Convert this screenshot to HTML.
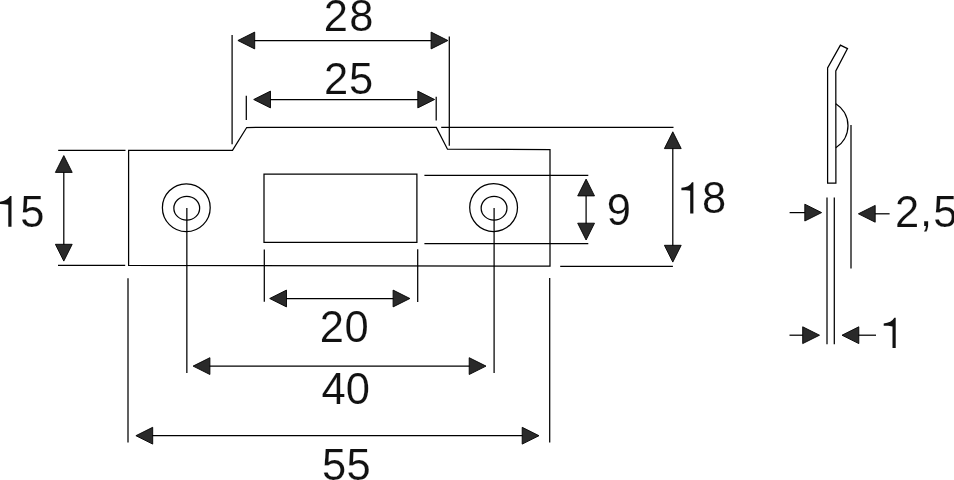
<!DOCTYPE html>
<html><head><meta charset="utf-8"><style>
html,body{margin:0;padding:0;background:#fff;width:954px;height:480px;overflow:hidden}
svg{display:block;filter:grayscale(1)}
text{font-family:"Liberation Sans",sans-serif;fill:#111;stroke:#fff;stroke-width:0.15px}
</style></head><body>
<svg width="954" height="480" viewBox="0 0 954 480">
<rect width="954" height="480" fill="#fff"/>
<polygon points="128.6,150.4 232.5,150.4 246.7,127.5 436.3,127.4 447.5,149.2 550,149.5 550,266.1 128.6,265.4" fill="none" stroke="#000" stroke-width="1.25" stroke-linejoin="miter"/>
<polygon points="264,174 416.9,174 416.9,242.4 264,242.4" fill="none" stroke="#000" stroke-width="1.25" stroke-linejoin="miter"/>
<circle cx="186.3" cy="207.7" r="23.9" fill="none" stroke="#000" stroke-width="1.25"/>
<ellipse cx="186.75" cy="208.2" rx="12.9" ry="11.9" fill="none" stroke="#000" stroke-width="1.25"/>
<circle cx="493.6" cy="207.6" r="23.9" fill="none" stroke="#000" stroke-width="1.25"/>
<ellipse cx="494.05" cy="208.2" rx="12.9" ry="11.9" fill="none" stroke="#000" stroke-width="1.25"/>
<line x1="232.1" y1="35" x2="232.1" y2="144.2" stroke="#000" stroke-width="1.25"/>
<line x1="449.3" y1="36.4" x2="449.3" y2="145.8" stroke="#000" stroke-width="1.25"/>
<line x1="253.3" y1="40.5" x2="432.5" y2="40.5" stroke="#000" stroke-width="1.25"/>
<polygon points="237.90,40.50 254.70,32.10 254.70,48.90" fill="#2a2a2a" stroke="#000" stroke-width="0.9" stroke-linejoin="round"/>
<polygon points="447.90,40.50 431.10,48.90 431.10,32.10" fill="#2a2a2a" stroke="#000" stroke-width="0.9" stroke-linejoin="round"/>
<line x1="246.3" y1="95.8" x2="246.3" y2="120" stroke="#000" stroke-width="1.25"/>
<line x1="436.2" y1="96.7" x2="436.2" y2="120.5" stroke="#000" stroke-width="1.25"/>
<line x1="269.1" y1="99.5" x2="419.2" y2="99.5" stroke="#000" stroke-width="1.25"/>
<polygon points="253.70,99.50 270.50,91.10 270.50,107.90" fill="#2a2a2a" stroke="#000" stroke-width="0.9" stroke-linejoin="round"/>
<polygon points="434.60,99.50 417.80,107.90 417.80,91.10" fill="#2a2a2a" stroke="#000" stroke-width="0.9" stroke-linejoin="round"/>
<line x1="58.2" y1="150.4" x2="125.5" y2="150.4" stroke="#000" stroke-width="1.25"/>
<line x1="58" y1="265.3" x2="125.2" y2="265.3" stroke="#000" stroke-width="1.25"/>
<line x1="63.8" y1="171.0" x2="63.8" y2="245.7" stroke="#000" stroke-width="1.25"/>
<polygon points="63.80,155.60 72.20,172.40 55.40,172.40" fill="#2a2a2a" stroke="#000" stroke-width="0.9" stroke-linejoin="round"/>
<polygon points="63.80,261.10 55.40,244.30 72.20,244.30" fill="#2a2a2a" stroke="#000" stroke-width="0.9" stroke-linejoin="round"/>
<line x1="441.2" y1="127.4" x2="673.5" y2="127.4" stroke="#000" stroke-width="1.25"/>
<line x1="560.2" y1="266.4" x2="672.9" y2="266.4" stroke="#000" stroke-width="1.25"/>
<line x1="672.8" y1="147.20000000000002" x2="672.8" y2="246.7" stroke="#000" stroke-width="1.25"/>
<polygon points="672.80,131.80 681.20,148.60 664.40,148.60" fill="#2a2a2a" stroke="#000" stroke-width="0.9" stroke-linejoin="round"/>
<polygon points="672.80,262.10 664.40,245.30 681.20,245.30" fill="#2a2a2a" stroke="#000" stroke-width="0.9" stroke-linejoin="round"/>
<line x1="424.4" y1="175.4" x2="588.3" y2="175.4" stroke="#000" stroke-width="1.25"/>
<line x1="424.4" y1="243.5" x2="588.3" y2="243.5" stroke="#000" stroke-width="1.25"/>
<line x1="586.1" y1="194.5" x2="586.1" y2="224.6" stroke="#000" stroke-width="1.25"/>
<polygon points="586.10,179.10 594.50,195.90 577.70,195.90" fill="#2a2a2a" stroke="#000" stroke-width="0.9" stroke-linejoin="round"/>
<polygon points="586.10,240.00 577.70,223.20 594.50,223.20" fill="#2a2a2a" stroke="#000" stroke-width="0.9" stroke-linejoin="round"/>
<line x1="264.3" y1="249.5" x2="264.3" y2="301.8" stroke="#000" stroke-width="1.25"/>
<line x1="417.7" y1="249.3" x2="417.7" y2="301.9" stroke="#000" stroke-width="1.25"/>
<line x1="285.1" y1="298.5" x2="394.5" y2="298.5" stroke="#000" stroke-width="1.25"/>
<polygon points="269.70,298.50 286.50,290.10 286.50,306.90" fill="#2a2a2a" stroke="#000" stroke-width="0.9" stroke-linejoin="round"/>
<polygon points="409.90,298.50 393.10,306.90 393.10,290.10" fill="#2a2a2a" stroke="#000" stroke-width="0.9" stroke-linejoin="round"/>
<line x1="186.85" y1="208" x2="186.85" y2="373" stroke="#000" stroke-width="1.25"/>
<line x1="494.1" y1="208" x2="494.1" y2="373" stroke="#000" stroke-width="1.25"/>
<line x1="208.5" y1="366.1" x2="470.59999999999997" y2="366.1" stroke="#000" stroke-width="1.25"/>
<polygon points="193.10,366.10 209.90,357.70 209.90,374.50" fill="#2a2a2a" stroke="#000" stroke-width="0.9" stroke-linejoin="round"/>
<polygon points="486.00,366.10 469.20,374.50 469.20,357.70" fill="#2a2a2a" stroke="#000" stroke-width="0.9" stroke-linejoin="round"/>
<line x1="128" y1="278.3" x2="128" y2="442.5" stroke="#000" stroke-width="1.25"/>
<line x1="549.7" y1="278" x2="549.7" y2="442.5" stroke="#000" stroke-width="1.25"/>
<line x1="151.3" y1="435.7" x2="523.6" y2="435.7" stroke="#000" stroke-width="1.25"/>
<polygon points="135.90,435.70 152.70,427.30 152.70,444.10" fill="#2a2a2a" stroke="#000" stroke-width="0.9" stroke-linejoin="round"/>
<polygon points="539.00,435.70 522.20,444.10 522.20,427.30" fill="#2a2a2a" stroke="#000" stroke-width="0.9" stroke-linejoin="round"/>
<polygon points="827.6,183.2 827.6,68 840.4,45.1 847.5,48.6 835.8,71 835.9,183.2" fill="none" stroke="#000" stroke-width="1.25" stroke-linejoin="miter"/>
<path d="M835.8,103.75 A26,26 0 0 1 835.8,147.8" fill="none" stroke="#000" stroke-width="1.25"/>
<line x1="851" y1="125" x2="851" y2="268.6" stroke="#000" stroke-width="1.25"/>
<line x1="827" y1="197.5" x2="827" y2="344.3" stroke="#000" stroke-width="1.25"/>
<line x1="834.3" y1="197.5" x2="834.3" y2="344.3" stroke="#000" stroke-width="1.25"/>
<line x1="789.6" y1="212.6" x2="806" y2="212.6" stroke="#000" stroke-width="1.25"/>
<polygon points="821.60,212.60 804.80,221.00 804.80,204.20" fill="#2a2a2a" stroke="#000" stroke-width="0.9" stroke-linejoin="round"/>
<line x1="873" y1="213.8" x2="889.6" y2="213.8" stroke="#000" stroke-width="1.25"/>
<polygon points="858.40,213.80 875.20,205.40 875.20,222.20" fill="#2a2a2a" stroke="#000" stroke-width="0.9" stroke-linejoin="round"/>
<line x1="789.5" y1="335.2" x2="805" y2="335.2" stroke="#000" stroke-width="1.25"/>
<polygon points="819.50,335.20 802.70,343.60 802.70,326.80" fill="#2a2a2a" stroke="#000" stroke-width="0.9" stroke-linejoin="round"/>
<line x1="857" y1="335.2" x2="876" y2="335.2" stroke="#000" stroke-width="1.25"/>
<polygon points="842.00,335.20 858.80,326.80 858.80,343.60" fill="#2a2a2a" stroke="#000" stroke-width="0.9" stroke-linejoin="round"/>
<text x="323.68" y="30.7" font-size="43.5">2</text>
<text x="349.14" y="30.7" font-size="43.5">8</text>
<text x="324.07" y="94.2" font-size="43.5">2</text>
<text x="349.06" y="94.2" font-size="43.5">5</text>
<text x="20.16" y="226.9" font-size="43.5">5</text>
<text x="606.74" y="224.6" font-size="43.5">9</text>
<text x="702.04" y="213.3" font-size="43.5">8</text>
<text x="319.82" y="341.5" font-size="43.5">2</text>
<text x="344.46" y="341.5" font-size="43.5">0</text>
<text x="321.41" y="404.1" font-size="43.5">4</text>
<text x="345.86" y="404.1" font-size="43.5">0</text>
<text x="321.96" y="480.2" font-size="43.5">5</text>
<text x="346.46" y="480.2" font-size="43.5">5</text>
<text x="895.03" y="226.5" font-size="43.5">2</text>
<text x="919.88" y="226.3" font-size="43.5">,</text>
<text x="933.26" y="226.5" font-size="43.5">5</text>
<path d="M11.5,196.1 L11.5,226.7 L8.30,226.7 L8.30,204.70 C5.50,204.20 2.50,204.10 -0.50,204.10 L-0.50,201.70 C4.50,201.40 8.30,199.30 10.10,196.1 Z" fill="#111"/>
<path d="M693.4,182.2 L693.4,213.6 L690.20,213.6 L690.20,190.80 C687.40,190.30 684.40,190.20 681.40,190.20 L681.40,187.80 C686.40,187.50 690.20,185.40 692.00,182.2 Z" fill="#111"/>
<path d="M895.7,317.8 L895.7,348.0 L892.50,348.0 L892.50,326.40 C889.70,325.90 886.70,325.80 883.70,325.80 L883.70,323.40 C888.70,323.10 892.50,321.00 894.30,317.8 Z" fill="#111"/>
</svg>
</body></html>
